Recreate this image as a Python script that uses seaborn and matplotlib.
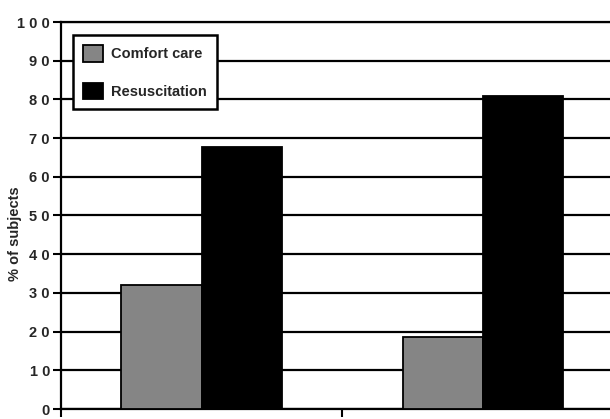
import matplotlib
matplotlib.use("Agg")
import matplotlib.pyplot as plt
import pandas as pd
import seaborn as sns

# data
groups = ["Group A", "Group B"]
comfort_care = [32, 18.7]
resuscitation = [67.8, 81]
series_names = ["Comfort care", "Resuscitation"]
y_ticks = [0, 10, 20, 30, 40, 50, 60, 70, 80, 90, 100]
y_tick_labels = ["0", "1 0", "2 0", "3 0", "4 0", "5 0", "6 0", "7 0", "8 0", "9 0", "1 0 0"]
palette = {"Comfort care": "#858585", "Resuscitation": "#000000"}


def main():
    sns.set_theme(style="white")
    plt.rcParams["font.family"] = ["Liberation Sans", "DejaVu Sans"]
    plt.rcParams["font.weight"] = "bold"

    df = pd.DataFrame({
        "group": groups * 2,
        "series": [series_names[0]] * len(groups) + [series_names[1]] * len(groups),
        "value": comfort_care + resuscitation,
    })

    fig = plt.figure(figsize=(6.10, 4.19), dpi=100)
    ax = fig.add_axes([61 / 610, 10 / 419, 562.5 / 610, 387 / 419])

    sns.barplot(data=df, x="group", y="value", hue="series", hue_order=series_names,
                palette=palette, width=0.57, edgecolor="black", linewidth=1.3,
                saturation=1, ax=ax, zorder=3)

    ax.set_xlim(-0.5, 1.5)
    ax.set_ylim(0, 100)
    ax.set_yticks(y_ticks)
    ax.set_yticklabels(y_tick_labels, fontsize=10.5, fontweight="bold")
    ax.set_xticks([-0.5, 0.5, 1.5])
    ax.set_xticklabels(["", "", ""])
    ax.tick_params(axis="both", direction="out", length=6, width=1.5, color="black", pad=2,
                   left=True, bottom=True)
    ax.set_xlabel("")
    ax.set_ylabel("% of subjects", fontsize=10.5, fontweight="bold")
    ax.yaxis.set_label_coords(-0.07, 0.452)

    ax.yaxis.grid(True, color="black", linewidth=1.6, zorder=0)
    ax.set_axisbelow(True)
    for side in ["left", "bottom", "top"]:
        ax.spines[side].set_color("black")
        ax.spines[side].set_linewidth(1.6)
    ax.spines["right"].set_visible(False)

    leg = ax.legend(loc="upper left", bbox_to_anchor=(0.021, 0.966), borderaxespad=0,
                    frameon=True, fancybox=False, framealpha=1, edgecolor="black",
                    prop={"size": 10.5, "weight": "bold"}, handlelength=1.35, handleheight=1.35,
                    labelspacing=1.45, borderpad=0.7, handletextpad=0.55, title=None)
    leg.get_frame().set_linewidth(1.8)
    leg.set_zorder(5)

    fig.savefig("out.png", dpi=100)
    plt.close(fig)


if __name__ == "__main__":
    main()
